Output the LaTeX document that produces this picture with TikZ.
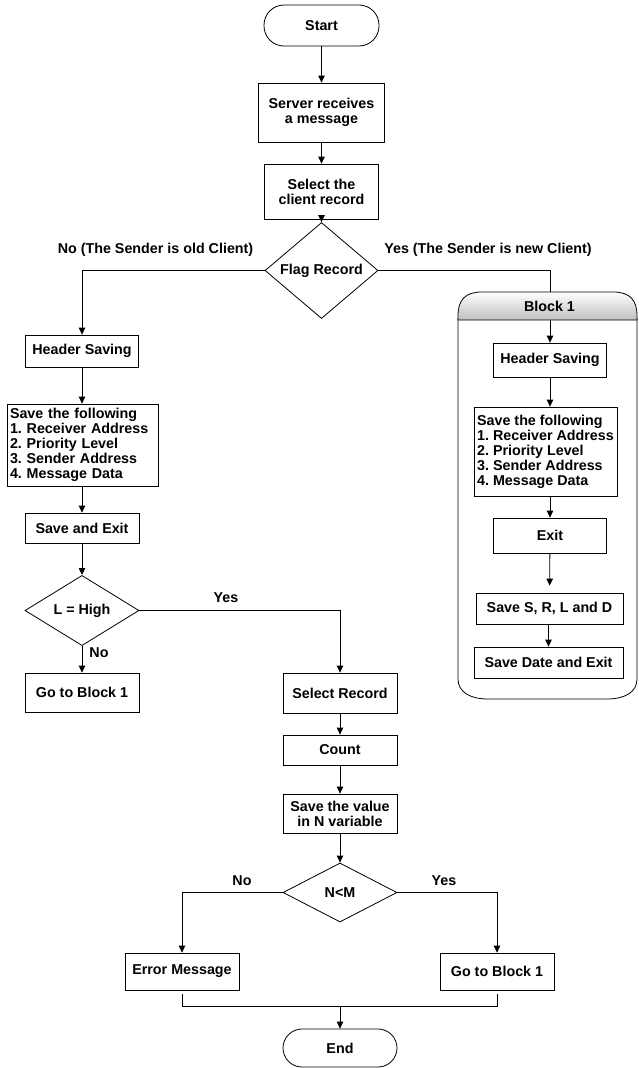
\documentclass[tikz,border=0pt]{standalone}
\usepackage{fontspec}
\setmainfont{Liberation Sans}
\usetikzlibrary{shapes.geometric,arrows.meta}
\frenchspacing

\begin{document}
\begin{tikzpicture}[x=1pt,y=-1pt,
  txt/.style={font=\fontsize{14.3}{15}\selectfont\bfseries},
  base/.style={draw,line width=0.8pt,txt,inner sep=0pt,align=center},
  box/.style={base,rectangle},
  term/.style={base,rectangle,rounded corners=19pt},
  decision/.style={base,diamond},
  listbox/.style={base,rectangle,align=left},
  link/.style={line width=0.8pt,-{Triangle[width=6.5pt,length=7pt]}},
  wire/.style={line width=0.8pt},
  lbl/.style={txt,inner sep=0pt}
]
\useasboundingbox (0,0) rectangle (638,1068);

% ---- Block 1 container (outline only; header drawn later on top)
\draw[wire] (458,318) -- (458,679) .. controls (458,692) and (470,699) .. (488,699)
  -- (607,699) .. controls (625,699) and (637,692) .. (637,679) -- (637,318);

% ---- main column
\node[term,minimum width=115pt,minimum height=41pt,rounded corners=20pt] (start) at (321.5,25.5) {Start};
\node[box,minimum width=126pt,minimum height=59pt] (srv) at (321.5,112.5) {Server receives\\a message};
\node[box,minimum width=114pt,minimum height=55pt] (sel) at (321.5,191.5) {Select the\\client record};
\node[decision,minimum width=113pt,minimum height=55pt] (flag) at (321.5,270.5) {Flag Record};

% ---- left branch (old client)
\node[box,minimum width=113pt,minimum height=32pt] (hsL) at (82,351) {Header Saving};
\node[listbox,text width=145pt,inner xsep=3pt,minimum height=82pt] (sfL) at (82.5,445)
  {Save the following\\1. Receiver Address\\2. Priority Level\\3. Sender Address\\4. Message Data};
\node[box,minimum width=114pt,minimum height=30pt] (seL) at (82,528) {Save and Exit};
\node[decision,minimum width=114pt,minimum height=57pt] (lhigh) at (82,610.5) {L = High};
\node[box,minimum width=114pt,minimum height=39pt] (gbL) at (82,692.5) {Go to Block 1};

% ---- high priority path
\node[box,minimum width=114pt,minimum height=40pt] (selr) at (340,693) {Select Record};
\node[box,minimum width=114pt,minimum height=30pt] (cnt) at (340,750) {Count};
\node[box,minimum width=114pt,minimum height=39pt] (sval) at (340,813.5) {Save the value\\in N variable};
\node[decision,minimum width=114pt,minimum height=59pt] (nm) at (340,892.5) {N<M};
\node[box,minimum width=114pt,minimum height=37pt] (err) at (182,971.5) {Error Message};
\node[box,minimum width=114pt,minimum height=37pt] (gbR) at (497,971.5) {Go to Block 1};
\node[term,minimum width=114pt,minimum height=38pt] (end) at (340,1048) {End};
\coordinate (mrg) at (340,1006);

% ---- Block 1 contents
\node[box,minimum width=113pt,minimum height=34pt] (hsR) at (550,360) {Header Saving};
\node[listbox,minimum width=143pt,minimum height=89pt] (sfR) at (545.5,451.5)
  {Save the following\\1. Receiver Address\\2. Priority Level\\3. Sender Address\\4. Message Data};
\node[box,minimum width=113pt,minimum height=35pt] (exit) at (550,535.5) {Exit};
\node[box,minimum width=147pt,minimum height=31pt] (ssrld) at (549.5,608.5) {Save S, R, L and D};
\node[box,minimum width=149pt,minimum height=31pt] (sde) at (548.5,662.5) {Save Date and Exit};

% ---- connectors
\draw[link] (start) -- (srv);
\draw[link] (srv) -- (sel);
\draw[link] (sel) -- (flag);
\draw[link] (flag.west) -| (hsL.north);
\draw[link] (flag.east) -| (hsR.north);
\draw[link] (hsL) -- (hsL |- sfL.north);
\draw[link] (sfL.south -| seL) -- (seL);
\draw[link] (seL) -- (lhigh);
\draw[link] (lhigh) -- (gbL);
\draw[link] (lhigh.east) -| (selr.north);
\draw[link] (selr) -- (cnt);
\draw[link] (cnt) -- (sval);
\draw[link] (sval) -- (nm);
\draw[link] (nm.west) -| (err.north);
\draw[link] (nm.east) -| (gbR.north);
\draw[wire,shorten <=4pt] (err.south) |- (mrg);
\draw[wire,shorten <=4pt] (gbR.south) |- (mrg);
\draw[link] (mrg) -- (end);
\draw[link] (hsR) -- (hsR |- sfR.north);
\draw[link] (sfR.south -| exit) -- (exit);
\draw[link,shorten >=7pt] (exit) -- (ssrld);
\draw[link] (ssrld.south -| sde) -- (sde);

% ---- Block 1 header, shaded, over the incoming connector
\shade[top color=white,bottom color=black!25,draw,line width=0.8pt]
  (458,320) -- (458,316) .. controls (458,300) and (465,292) .. (482,292)
  -- (613,292) .. controls (630,292) and (637,300) .. (637,316) -- (637,320) -- cycle;
\node[lbl] (blk) at (549.5,306) {Block 1};

% ---- branch labels
\node[lbl] (lno) at (155.5,250) {No (The Sender is old Client)};
\node[lbl] (lyes) at (488,250) {Yes (The Sender is new Client)};
\node[lbl] (hyes) at (226,598) {Yes};
\node[lbl] (hno) at (99,653) {No};
\node[lbl] (nno) at (242,881) {No};
\node[lbl] (nyes) at (444,881) {Yes};
\end{tikzpicture}
\end{document}
